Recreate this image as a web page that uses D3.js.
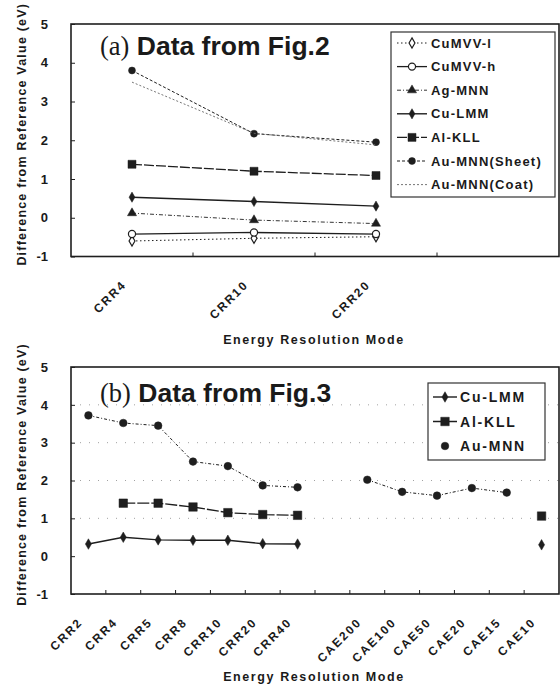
<!DOCTYPE html>
<html>
<head>
<meta charset="utf-8">
<script src="https://cdn.jsdelivr.net/npm/d3@7"></script>
<style>
  body { margin: 0; background: #fff; }
  svg text { font-family: "Liberation Sans", Arial, sans-serif; font-weight: bold; fill: #1a1a1a; }
</style>
</head>
<body>
<svg id="chart" width="560" height="688"></svg>
<script>
// ---- panel (a): data from Fig.2 ----
const modesA = ["CRR4", "CRR10", "CRR20", ""];   // last slot is empty (legend sits there)
const cuMVVl  = [-0.60, -0.53, -0.49];
const cuMVVh  = [-0.42, -0.38, -0.42];
const agMNN   = [0.12, -0.06, -0.15];
const cuLMMa  = [0.53, 0.42, 0.30];
const alKLLa  = [1.38, 1.20, 1.09];
const auSheet = [3.80, 2.17, 1.95];
const auCoat  = [3.50, 2.18, 1.88];

// ---- panel (b): data from Fig.3 ----
const modesB = ["CRR2", "CRR4", "CRR5", "CRR8", "CRR10", "CRR20", "CRR40", "",
                "CAE200", "CAE100", "CAE50", "CAE20", "CAE15", "CAE10"];
const cuLMMb = [0.32, 0.50, 0.43, 0.42, 0.42, 0.33, 0.32, null, null, null, null, null, null, 0.30];
const alKLLb = [null, 1.40, 1.40, 1.30, 1.15, 1.10, 1.08, null, null, null, null, null, null, 1.06];
const auMNNb = [3.72, 3.52, 3.45, 2.50, 2.38, 1.87, 1.82, null, 2.02, 1.70, 1.60, 1.80, 1.68, null];

const yTicks = [-1, 0, 1, 2, 3, 4, 5];
const ink = "#1e1e1e";

const svg = d3.select("#chart");

function drawPanel(cfg) {
  const w = 488, h = cfg.h;
  const g = svg.append("g").attr("transform", `translate(71,${cfg.top})`);

  const x = d3.scaleBand().domain(cfg.modes).range([0, w]);
  const y = d3.scaleLinear().domain([-1, 5]).range([h, 0]);
  const cx = m => x(m) + x.bandwidth() / 2;

  // faint dotted gridlines
  if (cfg.grid) {
    g.selectAll(".grid").data(cfg.grid).join("line")
      .attr("x1", 0).attr("x2", w)
      .attr("y1", d => y(d)).attr("y2", d => y(d))
      .attr("stroke", "#8a8a8a").attr("stroke-width", 0.8)
      .attr("stroke-dasharray", "1,8");
  }

  // y axis, ticks pointing in
  const ya = g.append("g").call(d3.axisLeft(y).tickValues(yTicks)
      .tickSize(-4).tickPadding(23).tickFormat(d => String(d)));
  ya.select(".domain").remove();
  ya.selectAll("line").attr("stroke", ink);
  ya.selectAll("text").style("font-size", "13px").attr("fill", ink);

  // x axis, rotated labels
  const xa = g.append("g").attr("transform", `translate(0,${h})`)
    .call(d3.axisBottom(x).tickSize(0).tickPadding(0));
  xa.select(".domain").remove();
  xa.selectAll("text")
    .attr("y", 0).attr("dy", 0)
    .attr("text-anchor", "end")
    .attr("transform", "translate(-5,29) rotate(-45)")
    .style("font-size", "12px")
    .style("letter-spacing", "1.9px")
    .attr("fill", ink);

  // inward ticks on band boundaries
  g.selectAll(".xt").data(cfg.modes.slice(1)).join("line")
    .attr("x1", d => x(d)).attr("x2", d => x(d))
    .attr("y1", h).attr("y2", h - 4)
    .attr("stroke", ink);

  // plot frame
  g.append("rect").attr("width", w).attr("height", h)
    .attr("fill", "none").attr("stroke", ink).attr("stroke-width", 1.6);

  // series
  cfg.series.forEach(s => {
    const pts = s.values.map((v, i) => ({ m: cfg.modes[i], v: v }));
    const line = d3.line().defined(d => d.v != null).x(d => cx(d.m)).y(d => y(d.v));
    g.append("path").datum(pts)
      .attr("d", line)
      .attr("fill", "none")
      .attr("stroke", s.color || ink)
      .attr("stroke-width", s.width)
      .attr("stroke-dasharray", s.dash);
    if (s.symbol) {
      g.selectAll(null).data(pts.filter(d => d.v != null)).join("path")
        .attr("transform", d => `translate(${cx(d.m)},${y(d.v)})`)
        .attr("d", d3.symbol().type(s.symbol).size(s.size))
        .attr("fill", s.open ? "#fff" : ink)
        .attr("stroke", ink)
        .attr("stroke-width", s.open ? 1.2 : 0.5);
    }
  });

  // title
  const t = svg.append("text").attr("x", 100).attr("y", cfg.titleY).style("font-size", "26.5px");
  t.append("tspan").text(cfg.tag)
    .style("font-family", "'Liberation Serif', 'Times New Roman', serif").style("font-weight", "normal");
  t.append("tspan").text(" Data from " + cfg.fig);

  // axis titles
  svg.append("text")
    .attr("transform", `translate(26,${cfg.top + h / 2 - 6}) rotate(-90)`)
    .attr("text-anchor", "middle")
    .style("font-size", "12.5px").style("letter-spacing", "1.2px")
    .text("Difference from Reference Value (eV)");
  svg.append("text")
    .attr("x", 314).attr("y", cfg.top + h + 87)
    .attr("text-anchor", "middle")
    .style("font-size", "12.5px").style("letter-spacing", "1.6px")
    .text("Energy Resolution Mode");

  // legend
  const L = cfg.legend;
  const lg = svg.append("g");
  lg.append("rect").attr("x", L.x).attr("y", L.y).attr("width", L.w).attr("height", L.h)
    .attr("fill", "#fff").attr("stroke", "#333").attr("stroke-width", 1.2);
  cfg.series.forEach((s, i) => {
    const ry = L.row0 + i * L.step;
    if (!s.noLegendLine) {
      lg.append("line").attr("x1", L.x1).attr("x2", L.x2).attr("y1", ry).attr("y2", ry)
        .attr("stroke", s.color || ink).attr("stroke-width", s.width)
        .attr("stroke-dasharray", s.dash);
    }
    if (s.symbol) {
      lg.append("path").attr("transform", `translate(${(L.x1 + L.x2) / 2},${ry})`)
        .attr("d", d3.symbol().type(s.symbol).size(s.size))
        .attr("fill", s.open ? "#fff" : ink).attr("stroke", ink)
        .attr("stroke-width", s.open ? 1.2 : 0.5);
    }
    lg.append("text").attr("x", L.tx).attr("y", ry).attr("dy", "0.36em")
      .style("font-size", L.font).style("letter-spacing", L.ls)
      .text(s.label);
  });
}

drawPanel({
  top: 24, h: 232.5, modes: modesA, tag: "(a)", fig: "Fig.2", titleY: 55,
  series: [
    { label: "CuMVV-l", values: cuMVVl, dash: "1.5,2.5", width: 1, symbol: d3.symbolDiamond, size: 30, open: true },
    { label: "CuMVV-h", values: cuMVVh, dash: null, width: 1.3, symbol: d3.symbolCircle, size: 40, open: true },
    { label: "Ag-MNN", values: agMNN, dash: "4,2,1,2", width: 0.9, symbol: d3.symbolTriangle, size: 36 },
    { label: "Cu-LMM", values: cuLMMa, dash: null, width: 1.4, symbol: d3.symbolDiamond, size: 30 },
    { label: "Al-KLL", values: alKLLa, dash: "10,2", width: 1.3, symbol: d3.symbolSquare, size: 64 },
    { label: "Au-MNN(Sheet)", values: auSheet, dash: "3,2", width: 1, symbol: d3.symbolCircle, size: 38 },
    { label: "Au-MNN(Coat)", values: auCoat, dash: "2,2", width: 0.9, color: "#666" }
  ],
  legend: { x: 391, y: 32, w: 164, h: 165, row0: 43, step: 23.6, x1: 397, x2: 427, tx: 431,
            font: "13px", ls: "1.2px" }
});

drawPanel({
  top: 367, h: 227, modes: modesB, tag: "(b)", fig: "Fig.3", titleY: 402, grid: [1, 2, 3, 4],
  series: [
    { label: "Cu-LMM", values: cuLMMb, dash: null, width: 1.4, symbol: d3.symbolDiamond, size: 32 },
    { label: "Al-KLL", values: alKLLb, dash: "12,2", width: 1.3, symbol: d3.symbolSquare, size: 72 },
    { label: "Au-MNN", values: auMNNb, dash: "3,2,1,2", width: 1, symbol: d3.symbolCircle, size: 46, noLegendLine: true }
  ],
  legend: { x: 428, y: 383, w: 117, h: 77, row0: 397, step: 24.5, x1: 433, x2: 457, tx: 460,
            font: "14px", ls: "1.8px" }
});
</script>
</body>
</html>
